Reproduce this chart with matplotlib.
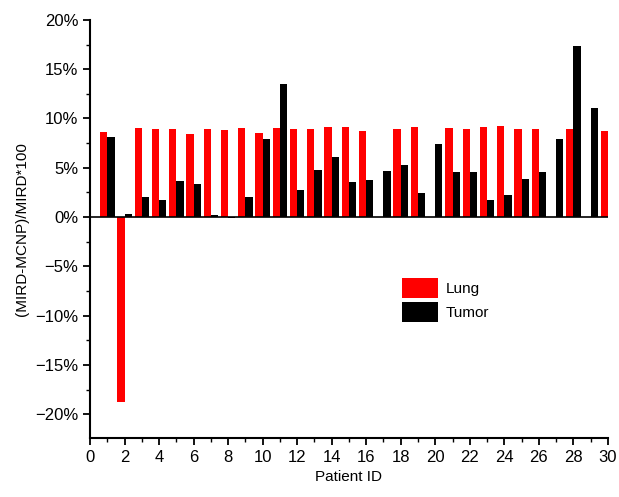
import numpy as np
import matplotlib.pyplot as plt
from matplotlib.ticker import MultipleLocator, FuncFormatter

plt.rcParams['font.family'] = ['Liberation Sans', 'DejaVu Sans']

# patient ids and deviations in percent (nan = no bar)
patients = list(range(1, 31))
lung = [8.6, -18.7, 9.0, 8.95, 8.9, 8.4, 8.95, 8.85, 9.0, 8.48,
        9.0, 8.9, 8.95, 9.09, 9.09, 8.78, np.nan, 8.95, 9.09, np.nan,
        9.0, 8.9, 9.09, 9.19, 8.9, 8.95, np.nan, 8.9, np.nan, 8.78]
tumor = [8.1, 0.34, 2.06, 1.76, 3.68, 3.38, 0.24, -0.14, 2.0, 7.97,
         13.5, 2.74, 4.73, 6.05, 3.6, 3.78, 4.66, 5.3, 2.47, 7.43,
         4.6, 4.53, 1.69, 2.26, 3.89, 4.53, 7.97, 17.36, 11.08, 7.8]

fig = plt.figure(figsize=(6.19, 4.97), dpi=100)
ax = fig.add_axes([0.1454, 0.1187, 0.8366, 0.8413])

x = np.array(patients)
w = 0.42
ax.bar(x, lung, width=-w, align='edge', color='#ff0000', label='Lung')
ax.bar(x, tumor, width=w, align='edge', color='black', label='Tumor')
ax.axhline(0, color='black', lw=1.2, zorder=3)

ax.set_xlim(0, 30)
ax.set_ylim(-22.4, 20)
ax.xaxis.set_major_locator(MultipleLocator(2))
ax.xaxis.set_minor_locator(MultipleLocator(1))
ax.yaxis.set_major_locator(MultipleLocator(5))
ax.yaxis.set_minor_locator(MultipleLocator(2.5))
ax.yaxis.set_major_formatter(FuncFormatter(
    lambda v, p: f"{v:.0f}%".replace('-', '\u2212')))

for s in ['top', 'right']:
    ax.spines[s].set_visible(False)
for s in ['left', 'bottom']:
    ax.spines[s].set_linewidth(1.5)
ax.tick_params(which='major', length=5, width=1.3, labelsize=12)
ax.tick_params(which='minor', length=3, width=1.0)

ax.set_xlabel('Patient ID', fontsize=11)
ax.set_ylabel('(MIRD-MCNP)/MIRD*100', fontsize=11)

ax.legend(loc='center left', bbox_to_anchor=(0.575, 0.33), frameon=False,
          fontsize=11, handlelength=2.4, handleheight=1.6,
          labelspacing=0.25, handletextpad=0.5)

fig.savefig('out.png', dpi=100)
